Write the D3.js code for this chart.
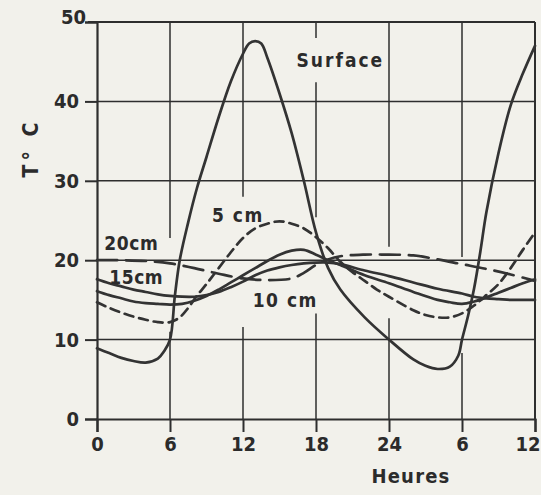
<!DOCTYPE html>
<html>
<head>
<meta charset="utf-8">
<script src="https://cdn.jsdelivr.net/npm/d3@7"></script>
<style>
  html, body { margin: 0; padding: 0; background: #f2f1eb; }
  svg text { font-family: "DejaVu Sans Condensed", "DejaVu Sans", sans-serif; font-weight: bold; fill: #2b2b2b; }
</style>
</head>
<body>
<div id="chart"></div>
<script>
// hours from 0 to 36 (midnight -> noon next day), temperature in °C
var surface = [[0,8.9],[1,8.3],[2,7.7],[3,7.3],[4,7.1],[5,7.6],[5.5,8.5],[6,10],[6.4,15.5],[6.8,20],[7.5,24.8],[8.2,29],[9,33],[10,38],[11,42.5],[12,46],[12.5,47.3],[13,47.6],[13.5,47.3],[14,45.5],[15,41],[16,36],[17,30],[18,23.5],[19,19],[20,16.3],[22,12.8],[24,10],[26,7.5],[27,6.7],[28,6.3],[29,6.6],[29.7,8],[30,10],[30.5,13],[31,16.5],[31.5,21],[32,26],[33,33.5],[34,39.5],[35,43.5],[36,47]];
var cm5 = [[0,14.7],[1,14],[2,13.4],[3,12.9],[4,12.5],[5,12.2],[6,12.2],[6.8,12.8],[7.5,14],[8.2,15.5],[9,17],[10,19],[11,21],[12,22.8],[13,24],[14,24.6],[15,24.9],[16,24.6],[17,24],[18,22.9],[19,21.5],[20,19.8],[21,18.5],[22,17.4],[23,16.3],[24,15.4],[26,13.7],[27,13.1],[28,12.8],[29,12.8],[30,13.3],[31,14.3],[32,15.6],[33,17],[34,19],[35,21.3],[36,23.5]];
var cm10 = [[0,16.1],[1,15.6],[2,15.2],[3,14.8],[4,14.6],[5,14.5],[6,14.4],[7,14.5],[8,14.9],[9,15.5],[10,16.3],[11,17.2],[12,18.1],[13,19],[14,19.9],[15,20.7],[16,21.2],[17,21.3],[18,20.7],[19,20],[20,19.4],[22,18.1],[24,17.1],[26,16],[28,15],[29,14.7],[30,14.5],[31,14.8],[32,15.3],[33,15.9],[34,16.5],[35,17.1],[36,17.6]];
var cm15 = [[0,17.6],[1,17.1],[2,16.7],[3,16.3],[4,16],[5,15.7],[6,15.5],[7,15.4],[8,15.4],[9,15.6],[10,16],[11,16.6],[12,17.3],[13,18.1],[14,18.7],[15,19.1],[16,19.4],[17,19.6],[18,19.7],[19,19.7],[20,19.5],[22,18.7],[24,18],[26,17.2],[28,16.4],[30,15.8],[31,15.4],[32,15.2],[33,15.1],[34,15],[35,15],[36,15]];
var cm20 = [[0,20],[2,20],[4,19.9],[6,19.6],[8,19],[10,18.3],[12,17.7],[14,17.5],[16,17.7],[17,18.4],[18,19.4],[19,20.1],[20,20.5],[22,20.7],[24,20.7],[26,20.6],[28,20.1],[30,19.5],[32,18.9],[34,18.2],[36,17.4]];

var yTicks = [0, 10, 20, 30, 40, 50];
var xTicks = [0, 6, 12, 18, 24, 30, 36];
var xTickLabels = ["0", "6", "12", "18", "24", "6", "12"];

var width = 541, height = 495;
var margin = {top: 22, right: 6, bottom: 76, left: 97};

var svg = d3.select("#chart").append("svg")
  .attr("width", width)
  .attr("height", height);

svg.append("rect").attr("width", width).attr("height", height).attr("fill", "#f2f1eb");

var x = d3.scaleLinear().domain([0, 36]).range([margin.left, width - margin.right]);
var y = d3.scaleLinear().domain([0, 50]).range([height - margin.bottom, margin.top]);

var ink = "#2e2e2e";

// horizontal grid
svg.append("g").selectAll("line")
  .data([10, 20, 30, 40])
  .enter().append("line")
  .attr("x1", x(0)).attr("x2", x(36))
  .attr("y1", d => y(d)).attr("y2", d => y(d))
  .attr("stroke", ink).attr("stroke-width", 1.5);

// vertical grid, broken where the curves and labels pass
var vGrid = [[6, 22.8, 50], [6, 0, 11], [12, 28, 50], [12, 0, 11.6], [18, 48, 50], [18, 25.4, 42.4], [18, 0, 13.3],
             [24, 21.7, 50], [24, 0, 12.7], [30, 20.4, 50], [30, 0, 8.3]];
svg.append("g").selectAll("line")
  .data(vGrid)
  .enter().append("line")
  .attr("x1", d => x(d[0])).attr("x2", d => x(d[0]))
  .attr("y1", d => y(d[1])).attr("y2", d => y(d[2]))
  .attr("stroke", ink).attr("stroke-width", 1.5);

// axes
var yAxis = d3.axisLeft(y).tickValues(yTicks).tickSize(12).tickPadding(6);
var xAxis = d3.axisBottom(x).tickValues(xTicks).tickSize(13).tickPadding(5)
  .tickFormat((d, i) => xTickLabels[i]);

var gy = svg.append("g").attr("transform", `translate(${x(0)},0)`).call(yAxis);
var gx = svg.append("g").attr("transform", `translate(0,${y(0)})`).call(xAxis);

[gx, gy].forEach(g => {
  g.select(".domain").attr("stroke", ink).attr("stroke-width", 2.2);
  g.selectAll(".tick line").attr("stroke", ink).attr("stroke-width", 2);
  g.selectAll(".tick text").attr("font-size", 20).attr("fill", "#2b2b2b")
    .style("font-family", "'DejaVu Sans Condensed', sans-serif").style("font-weight", "bold");
});
// the top label sits a bit higher and closer to the tick
gy.selectAll(".tick text").filter(d => d === 50).attr("x", -11).attr("dy", "0.05em");
// last hour label kept inside the page
gx.selectAll(".tick text").filter(d => d === 36).attr("text-anchor", "end").attr("x", 5);

// top and right frame
svg.append("line").attr("x1", x(0) - 9).attr("x2", x(36)).attr("y1", y(50)).attr("y2", y(50))
  .attr("stroke", ink).attr("stroke-width", 2);
svg.append("line").attr("x1", x(36)).attr("x2", x(36)).attr("y1", y(0)).attr("y2", y(50))
  .attr("stroke", ink).attr("stroke-width", 2);

// curves
var line = d3.line()
  .x(d => x(d[0]))
  .y(d => y(d[1]))
  .curve(d3.curveCatmullRom.alpha(0.5));

var series = [
  {data: cm20, dash: "20,9"},
  {data: cm15, dash: null},
  {data: cm10, dash: null},
  {data: cm5, dash: "9,6"},
  {data: surface, dash: null}
];

svg.append("g").selectAll("path")
  .data(series)
  .enter().append("path")
  .attr("d", d => line(d.data))
  .attr("fill", "none")
  .attr("stroke", "#333")
  .attr("stroke-width", 2.7)
  .attr("stroke-linecap", "round")
  .attr("stroke-dasharray", d => d.dash);

// curve labels
svg.append("text").attr("x", x(16.4)).attr("y", y(44.3)).attr("font-size", 19)
  .attr("letter-spacing", 2).text("Surface");
svg.append("text").attr("x", x(9.45)).attr("y", y(24.8)).attr("font-size", 19)
  .attr("letter-spacing", 1.5).text("5 cm");
svg.append("text").attr("x", x(0.6)).attr("y", y(21.3)).attr("font-size", 19)
  .attr("letter-spacing", 0.6).text("20cm");
svg.append("text").attr("x", x(1.0)).attr("y", y(17.0)).attr("font-size", 19)
  .attr("letter-spacing", 0.6).text("15cm");
svg.append("text").attr("x", x(12.8)).attr("y", y(14.1)).attr("font-size", 19)
  .attr("letter-spacing", 1.5).text("10 cm");

// axis titles
svg.append("text").attr("x", 411).attr("y", 483).attr("text-anchor", "middle")
  .attr("font-size", 20).attr("letter-spacing", 1.2).text("Heures");
svg.append("text").attr("transform", "translate(38,148) rotate(-90)")
  .attr("text-anchor", "middle").attr("font-size", 21).attr("letter-spacing", 4)
  .text("T° C");
</script>
</body>
</html>
